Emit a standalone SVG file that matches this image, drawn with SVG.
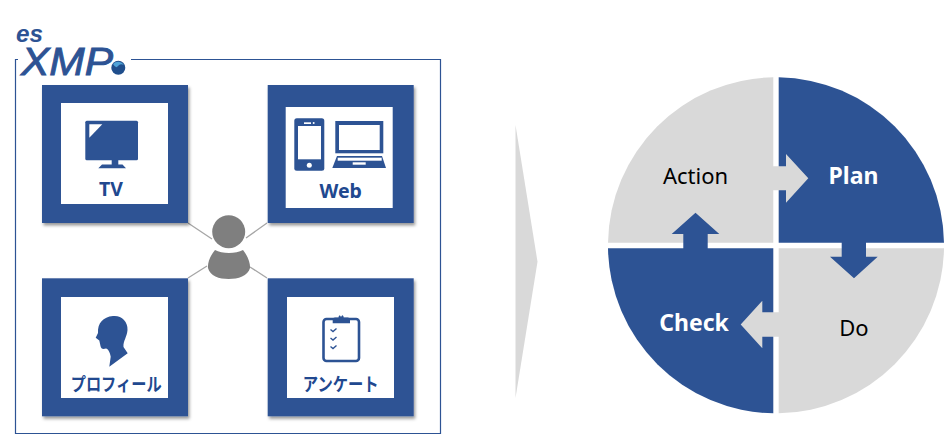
<svg xmlns="http://www.w3.org/2000/svg" width="950" height="435" viewBox="0 0 950 435">
<style>
.b{fill:#2d5394}.g{fill:#d9d9d9}.w{fill:#fff}
.box{fill:#2d5394;filter:url(#sh)}
.t{font-family:"Noto Sans","Noto Sans CJK JP",sans-serif;font-weight:700;fill:#21488f;text-anchor:middle}
.j{font-family:"Noto Sans CJK JP","Noto Sans",sans-serif;font-weight:700;fill:#21488f;text-anchor:middle}
.p{font-family:"Noto Sans",sans-serif;font-size:22px;text-anchor:middle}
.h{font-size:23px;font-weight:700;fill:#fff}
.l{stroke:#a6a6a6;stroke-width:1.3;fill:none}
</style>
<defs>
<filter id="sh" x="-10%" y="-10%" width="125%" height="125%"><feDropShadow dx="1.5" dy="2.5" stdDeviation="1.6" flood-color="#000" flood-opacity=".4"/></filter>
<filter id="bl" x="-30%" y="-5%" width="160%" height="110%"><feGaussianBlur stdDeviation=".7"/></filter>
</defs>
<rect width="950" height="435" fill="#fff"/>
<path id="frame" d="M18 59.500H15.500V433.500H440.500V59.500H131" fill="none" stroke="#2d5394" stroke-width="1.200"/>
<g id="logo">
<text x="16" y="41.500" font-family="Liberation Sans,sans-serif" font-weight="700" font-style="italic" font-size="24" textLength="27" lengthAdjust="spacingAndGlyphs" fill="#2d5394">es</text>
<text x="21" y="74.500" font-family="Liberation Sans,sans-serif" font-style="italic" font-size="38" textLength="92" lengthAdjust="spacingAndGlyphs" fill="#2d5394" stroke="#2d5394" stroke-width=".9">XMP</text>
<circle cx="118.300" cy="67.700" r="7" fill="#1f4e8c"/>
<path d="M113 64a7 7 0 0 1 11 1q-4-2-6 1t-5-2z" fill="#4fa3d8"/>
</g>
<g id="connectors">
<path class="l" d="M188 223L212 239M267 223L246 238M188 278L207 266M267 278L250 267"/>
</g>
<g id="tv">
<rect class="box" x="42" y="85" width="146" height="138"/>
<rect class="w" x="61" y="103" width="107" height="101"/>
<rect class="b" x="85.300" y="120.700" width="52.700" height="39.600" rx="1.500"/>
<path class="w" d="M89.300 124.300H102.300L89.300 137.700z"/>
<path class="b" d="M111.700 160H118.300V164.500H122.500L126 168.300H98.300L102 164.500H111.700z"/>
<text class="t" x="111" y="196" font-size="19.500">TV</text>
</g>
<g id="web">
<rect class="box" x="267.700" y="85" width="146" height="138"/>
<rect class="w" x="285.700" y="107" width="107" height="101"/>
<rect class="b" x="294.300" y="118.300" width="30" height="52.400" rx="2.500"/>
<rect class="w" x="298" y="126" width="23" height="33.300"/>
<rect class="w" x="304" y="122.300" width="7" height="1.700"/>
<circle class="w" cx="313.700" cy="123" r="1"/>
<circle class="w" cx="309.300" cy="165.300" r="2.500"/>
<rect class="b" x="335.300" y="121" width="48" height="32.300"/>
<rect class="w" x="339" y="125" width="40.700" height="25"/>
<path class="b" d="M337 156H382L386 168H332.300z"/>
<rect class="w" x="337.700" y="157.700" width="44" height="3"/>
<rect class="w" x="352.700" y="162.300" width="13" height="2.400"/>
<text class="t" x="340.700" y="198" font-size="19.500">Web</text>
</g>
<g id="profile">
<rect class="box" x="42" y="278.300" width="146" height="138"/>
<rect class="w" x="61" y="297" width="107" height="101"/>
<path class="b" d="M113 316C121 315 128 321 127.500 330C127 337 123 341 123.500 347L127.700 353.300L109.300 366.700L110.700 356.700C110 352 108 349 106 348.500C103 349.500 101 349 100.500 346L99.300 340.500L95.700 337.700L98 333C97.500 323 103 317 113 316z"/>
<text class="j" x="116.200" y="391" font-size="18.500" textLength="91" lengthAdjust="spacingAndGlyphs">プロフィール</text>
</g>
<g id="survey">
<rect class="box" x="267.700" y="278.300" width="146" height="138"/>
<rect class="w" x="287" y="297" width="107" height="101"/>
<rect x="323.500" y="319" width="35.500" height="42" rx="3" fill="none" stroke="#2d5394" stroke-width="2.600"/>
<path class="b" d="M332.700 323.300V319.500Q332.700 317.500 335 317.500H338.500A2.600 2.600 0 0 1 343.700 317.500H347.700Q350 317.500 350 319.500V323.300z"/>
<circle class="w" cx="341" cy="315.500" r="1"/>
<path d="M330.500 329.500L333 331.500L336.500 328.500M330.500 338L333 340L336.500 337M330.500 346.500L333 348.500L336.500 345.500" fill="none" stroke="#2d5394" stroke-width="1.400"/>
<text class="j" x="340.700" y="391" font-size="18.500" textLength="76" lengthAdjust="spacingAndGlyphs">アンケート</text>
</g>
<g id="person">
<circle cx="228.700" cy="231.700" r="16.500" fill="#7f7f7f"/>
<path d="M215 250C222 254 236 254 243 250C248 256 250.500 264 250 268C248 276 238 279 228.700 279C219 279 210 276 208 268C207.500 263 210 256 215 250z" fill="#7f7f7f"/>
</g>
<polygon id="chevron" class="g" filter="url(#bl)" points="515.500,125 537.500,261.700 515.500,398"/>
<g id="action">
<path class="g" d="M773.300 242.700V77.300A168 168 0 0 0 608 242.700z"/>
<text class="p" x="695.500" y="184" fill="#000">Action</text>
</g>
<g id="plan">
<path class="b" d="M778.700 242.700V77.300A168 168 0 0 1 944 242.700z"/>
<path class="g" d="M773 166.300H786V154L808.300 178.300L786 202.700V190.300H773z"/>
<text class="p h" x="853.500" y="184">Plan</text>
</g>
<g id="do">
<path class="g" d="M778.700 248.300V413.300A168 168 0 0 0 944 248.300z"/>
<path class="b" d="M841.700 242H866V256.700H877.700L854 278.300L830 256.700H841.700z"/>
<text class="p" x="854" y="336" fill="#000">Do</text>
</g>
<g id="check">
<path class="b" d="M773.300 248.300V413.300A168 168 0 0 1 608 248.300z"/>
<path class="g" d="M779 312.300H762.300V300.700L740.700 324.500L762.300 348.300V336.700H779z"/>
<path class="b" d="M683.300 249H707.700V234H719.300L695.500 212.700L671.700 234H683.300z"/>
<text class="p h" x="694" y="331">Check</text>
</g>
</svg>
